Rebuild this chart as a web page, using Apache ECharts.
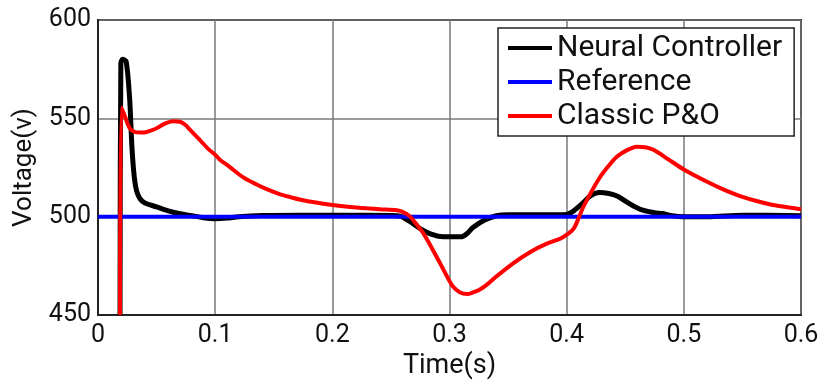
<!DOCTYPE html>
<html>
<head>
<meta charset="utf-8">
<script src="https://cdn.jsdelivr.net/npm/echarts@6/dist/echarts.min.js"></script>
<style>
  html, body { margin: 0; padding: 0; background: #fff; }
  #chart { width: 824px; height: 385px; }
</style>
</head>
<body>
<div id="chart"></div>
<script>
// Time axis (s) and voltage (V) samples for each controller response
const neuralTime = [0.0188, 0.0195, 0.021, 0.024, 0.027, 0.029, 0.031, 0.033, 0.036, 0.040, 0.050, 0.060, 0.070, 0.080, 0.090, 0.100, 0.110, 0.120, 0.140, 0.170, 0.200, 0.230, 0.250, 0.258, 0.265, 0.275, 0.285, 0.295, 0.310, 0.315, 0.320, 0.330, 0.340, 0.350, 0.380, 0.400, 0.406, 0.414, 0.420, 0.428, 0.436, 0.443, 0.450, 0.457, 0.465, 0.475, 0.482, 0.490, 0.500, 0.520, 0.550, 0.600];
const neuralVolt = [450, 578, 580, 579, 560, 535, 520, 513, 509, 507, 505, 503, 501.5, 500.5, 499.5, 499, 499.3, 500, 500.6, 500.8, 500.7, 500.7, 500.6, 500.3, 498, 494, 491, 489.8, 489.8, 491.5, 494.5, 498.3, 500.5, 501, 501, 501.2, 503, 507, 510.5, 512.3, 511.8, 510.5, 508, 505.5, 503.3, 502, 501.6, 500.5, 500, 500, 500.8, 500.5];

const referenceTime = [0, 0.6];
const referenceVolt = [500, 500];

const poTime = [0.0188, 0.020, 0.023, 0.027, 0.032, 0.039, 0.045, 0.050, 0.057, 0.064, 0.070, 0.075, 0.078, 0.087, 0.094, 0.100, 0.104, 0.112, 0.124, 0.135, 0.144, 0.155, 0.164, 0.172, 0.186, 0.200, 0.215, 0.229, 0.241, 0.255, 0.260, 0.266, 0.272, 0.278, 0.285, 0.292, 0.298, 0.303, 0.309, 0.315, 0.320, 0.326, 0.333, 0.340, 0.354, 0.369, 0.383, 0.395, 0.401, 0.406, 0.410, 0.414, 0.420, 0.428, 0.436, 0.443, 0.452, 0.460, 0.467, 0.474, 0.486, 0.500, 0.519, 0.535, 0.548, 0.562, 0.576, 0.590, 0.600];
const poVolt = [450, 555.5, 551, 545, 543, 542.8, 543.8, 545, 547.3, 548.5, 548.3, 546.5, 544.5, 539, 534.5, 531.5, 529, 525.5, 520, 516.5, 514, 511.5, 510, 508.8, 507.2, 506, 505, 504.3, 503.8, 503.3, 502.5, 500.3, 496, 491.3, 484, 476.3, 469.5, 464.5, 461.5, 460.7, 461.5, 463, 466, 469.6, 476.2, 482.1, 486.3, 489, 491.3, 494, 499, 504.7, 511.5, 519.7, 526, 530.6, 534, 535.6, 535.3, 534, 529.5, 524, 518, 513.5, 510.5, 508, 506, 504.7, 503.8];

const xTickLabels = ['0', '0.1', '0.2', '0.3', '0.4', '0.5', '0.6'];
const yTickLabels = ['450', '500', '550', '600'];

const seriesNames = ['Neural Controller', 'Reference', 'Classic P&O'];

const pairs = (xs, ys) => xs.map((x, i) => [x, ys[i]]);

const FONT = 'Roboto, "Noto Sans", sans-serif';

const chart = echarts.init(document.getElementById('chart'), null, { renderer: 'canvas' });

chart.setOption({
  animation: false,
  backgroundColor: '#fff',
  grid: {
    left: 98, right: 23, top: 20, bottom: 66,
    show: true, borderColor: '#222', borderWidth: 2, backgroundColor: 'transparent'
  },
  legend: {
    orient: 'vertical',
    left: 498, top: 28,
    padding: [5, 12, 5, 10],
    itemGap: 4,
    itemWidth: 44, itemHeight: 4,
    icon: 'rect',
    borderColor: '#222', borderWidth: 1.5,
    backgroundColor: '#fff',
    textStyle: { fontFamily: FONT, fontSize: 30, color: '#111' },
    data: seriesNames
  },
  xAxis: {
    type: 'value', min: 0, max: 0.6, interval: 0.1,
    name: 'Time(s)', nameLocation: 'middle', nameGap: 30,
    nameTextStyle: { fontFamily: FONT, fontSize: 27, color: '#111' },
    axisLine: { show: true, lineStyle: { color: '#222', width: 2 } },
    axisTick: { show: false },
    axisLabel: {
      fontFamily: FONT, fontSize: 25, color: '#111', margin: 8,
      formatter: (v, i) => xTickLabels[i]
    },
    splitLine: { show: true, lineStyle: { color: '#7a7a7a', width: 1.5 } }
  },
  yAxis: {
    type: 'value', min: 450, max: 600, interval: 50,
    name: 'Voltage(v)', nameLocation: 'middle', nameGap: 58,
    nameTextStyle: { fontFamily: FONT, fontSize: 26, color: '#111' },
    axisLine: { show: true, lineStyle: { color: '#222', width: 2 } },
    axisTick: { show: false },
    axisLabel: {
      fontFamily: FONT, fontSize: 25, color: '#111', margin: 7,
      formatter: (v, i) => yTickLabels[i]
    },
    splitLine: { show: true, lineStyle: { color: '#7a7a7a', width: 1.5 } }
  },
  series: [
    {
      name: seriesNames[0], type: 'line', data: pairs(neuralTime, neuralVolt),
      showSymbol: false, smooth: 0.3, clip: true,
      lineStyle: { color: '#000', width: 5 }, itemStyle: { color: '#000' }
    },
    {
      name: seriesNames[1], type: 'line', data: pairs(referenceTime, referenceVolt),
      showSymbol: false, clip: true,
      lineStyle: { color: '#0000ff', width: 4 }, itemStyle: { color: '#0000ff' }
    },
    {
      name: seriesNames[2], type: 'line', data: pairs(poTime, poVolt),
      showSymbol: false, smooth: 0.3, clip: true,
      lineStyle: { color: '#ff0000', width: 4 }, itemStyle: { color: '#ff0000' }
    }
  ]
});
</script>
</body>
</html>
